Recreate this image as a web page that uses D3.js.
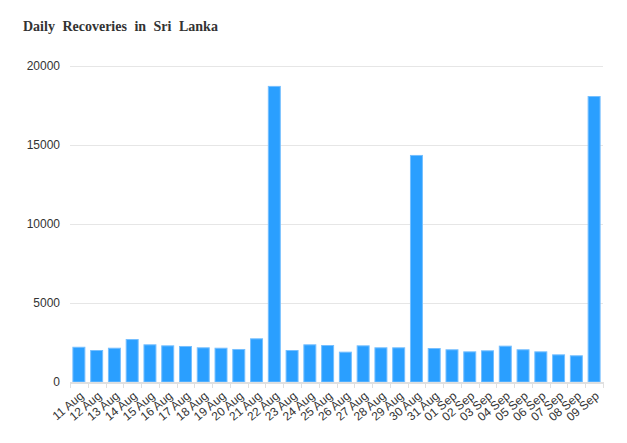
<!DOCTYPE html>
<html><head><meta charset="utf-8">
<script src="https://cdn.jsdelivr.net/npm/d3@7"></script>
<style>body{margin:0;background:#fff}svg{display:block}</style>
</head><body>
<script>
const categories = ["11 Aug","12 Aug","13 Aug","14 Aug","15 Aug","16 Aug","17 Aug","18 Aug","19 Aug","20 Aug","21 Aug","22 Aug","23 Aug","24 Aug","25 Aug","26 Aug","27 Aug","28 Aug","29 Aug","30 Aug","31 Aug","01 Sep","02 Sep","03 Sep","04 Sep","05 Sep","06 Sep","07 Sep","08 Sep","09 Sep"];
const recoveries = [2230,2025,2170,2720,2385,2320,2280,2195,2170,2090,2765,18740,2025,2385,2340,1920,2320,2195,2195,14370,2150,2070,1940,2005,2300,2070,1940,1750,1690,18100];
const yTicks = [0,5000,10000,15000,20000];
const title = "Daily Recoveries in Sri Lanka";

const W = 627, H = 443;
const m = {left:70, right:24, top:66, bottom:61};
const svg = d3.select("body").append("svg").attr("width",W).attr("height",H);

const x = d3.scaleBand().domain(categories).range([m.left, W-m.right]).paddingInner(0.27).paddingOuter(0.135);
const xb = d3.scaleBand().domain(categories).range([m.left, W-m.right]);
const y = d3.scaleLinear().domain([0,20000]).range([H-m.bottom, m.top]);

svg.append("text").attr("x",23).attr("y",31).text(title)
  .attr("font-family","'Liberation Serif','Times New Roman',serif").attr("font-weight","bold")
  .attr("font-size",14).attr("word-spacing","4px").attr("fill","#333");

// grid
svg.append("g").selectAll("line").data(yTicks.filter(d=>d>0)).join("line")
  .attr("x1",m.left).attr("x2",W-m.right)
  .attr("y1",d=>Math.round(y(d))+0.5).attr("y2",d=>Math.round(y(d))+0.5)
  .attr("stroke","#e6e6e6");

// y labels
svg.append("g").selectAll("text").data(yTicks).join("text")
  .attr("x",60).attr("y",d=>y(d)).attr("dy","0.35em").attr("text-anchor","end")
  .attr("font-family","'Liberation Sans',Arial,sans-serif").attr("font-size",12).attr("fill","#333")
  .text(d=>d);

// bars
svg.append("g").selectAll("rect").data(recoveries).join("rect")
  .attr("x",(d,i)=>x(categories[i])+0.5).attr("width",x.bandwidth()-1)
  .attr("y",d=>y(d)+0.5).attr("height",d=>y(0)-y(d)-0.5)
  .attr("fill","#2a9fff").attr("stroke","#75bfff").attr("stroke-width",1);

// x axis
const xa = svg.append("g").attr("transform",`translate(0,${y(0)})`);
xa.append("line").attr("x1",m.left).attr("x2",W-m.right).attr("y1",1).attr("y2",1).attr("stroke","#e0e0e0").attr("stroke-width",2);
const bounds = categories.map(c=>xb(c)).concat([W-m.right]);
xa.selectAll("line.t").data(bounds).join("line").attr("class","t")
  .attr("x1",d=>Math.round(d)+0.5).attr("x2",d=>Math.round(d)+0.5).attr("y1",0).attr("y2",6)
  .attr("stroke","#e0e0e0");
xa.selectAll("text").data(categories).join("text")
  .attr("transform",d=>`translate(${x(d)+x.bandwidth()/2+3},${12}) rotate(-40)`)
  .attr("text-anchor","end").attr("dy","0.35em")
  .attr("font-family","'Liberation Sans',Arial,sans-serif").attr("font-size",12).attr("fill","#333")
  .text(d=>d);
</script>
</body></html>
